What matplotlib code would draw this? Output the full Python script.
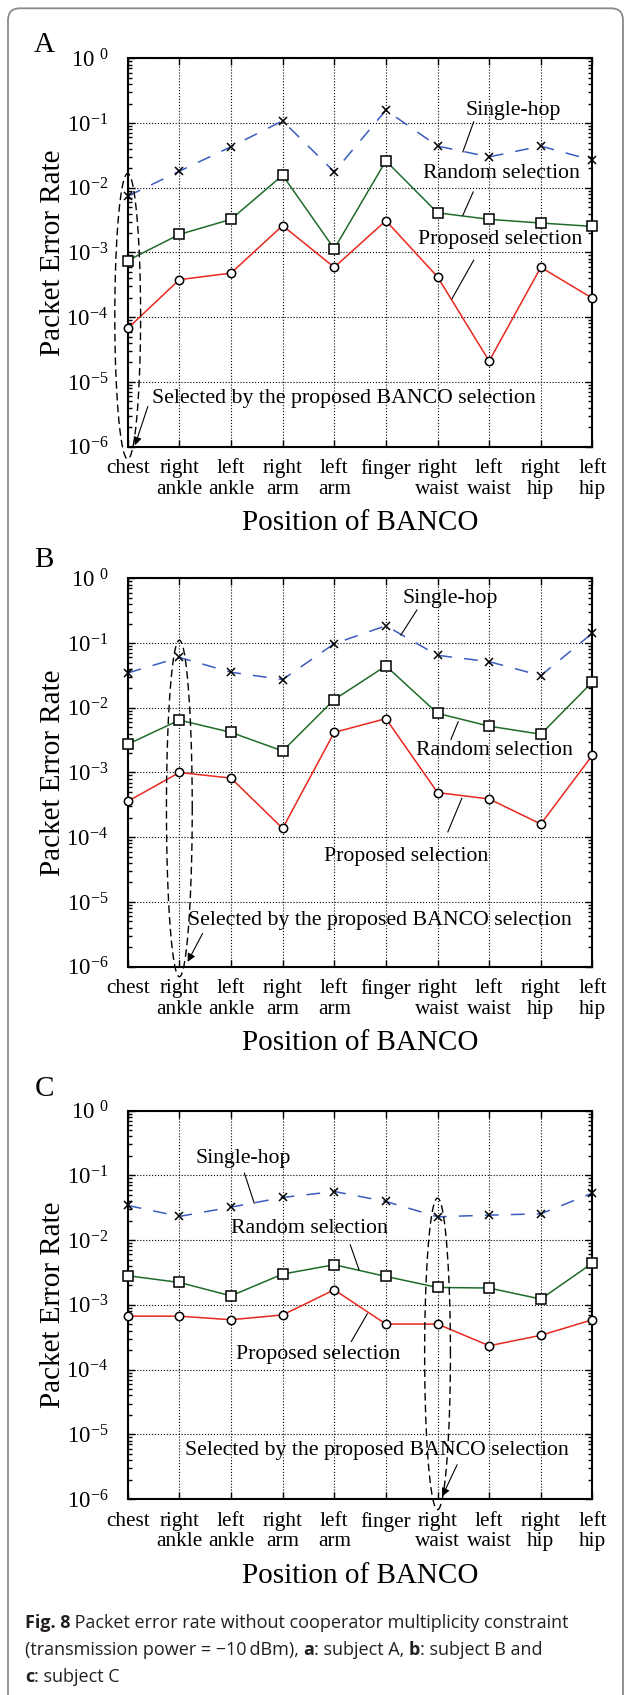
import numpy as np
import matplotlib
matplotlib.use('Agg')
import matplotlib.pyplot as plt
from matplotlib.ticker import LogLocator, FuncFormatter, NullFormatter
from matplotlib.patches import FancyBboxPatch

plt.rcParams['font.family'] = 'Liberation Serif'
plt.rcParams['mathtext.default'] = 'regular'

# body positions of the BANCO (x axis)
positions = ['chest', 'right\nankle', 'left\nankle', 'right\narm', 'left\narm',
             'finger', 'right\nwaist', 'left\nwaist', 'right\nhip', 'left\nhip']

# subject A
single_a = [7.4e-3, 0.018, 0.043, 0.108, 0.0176, 0.158, 0.044, 0.030, 0.044, 0.0266]
random_a = [7.5e-4, 1.9e-3, 3.25e-3, 0.0156, 1.14e-3, 0.026, 4.1e-3, 3.25e-3, 2.85e-3, 2.53e-3]
proposed_a = [6.7e-5, 3.8e-4, 4.8e-4, 2.6e-3, 5.9e-4, 3.1e-3, 4.2e-4, 2.1e-5, 5.9e-4, 1.96e-4]

# subject B
single_b = [0.0345, 0.060, 0.0354, 0.0273, 0.0977, 0.185, 0.0646, 0.0516, 0.0314, 0.1425]
random_b = [2.73e-3, 6.46e-3, 4.17e-3, 2.15e-3, 0.0134, 0.0443, 8.2e-3, 5.2e-3, 3.9e-3, 0.0251]
proposed_b = [3.58e-4, 1.0e-3, 8.2e-4, 1.37e-4, 4.17e-3, 6.8e-3, 4.9e-4, 3.9e-4, 1.6e-4, 1.85e-3]

# subject C
single_c = [0.0343, 0.0232, 0.0323, 0.0455, 0.0563, 0.0395, 0.0229, 0.0243, 0.0255, 0.0531]
random_c = [2.82e-3, 2.22e-3, 1.38e-3, 2.99e-3, 4.17e-3, 2.75e-3, 1.86e-3, 1.82e-3, 1.23e-3, 4.42e-3]
proposed_c = [6.7e-4, 6.7e-4, 5.9e-4, 7.0e-4, 1.71e-3, 5.06e-4, 5.06e-4, 2.34e-4, 3.39e-4, 5.9e-4]

panel_names = ['A', 'B', 'C']
selected = ['chest', 'right\nankle', 'right\nwaist']

# annotation layout: (x, log10 y) of text, pointer line start/end
notes = [
    {'single': ((8.46, -0.80), (7.70, -0.981), (7.49, -1.446)),
     'random': ((8.24, -1.78), (7.69, -2.065), (7.49, -2.426)),
     'proposed': ((8.21, -2.80), (7.70, -3.12), (7.28, -3.715)),
     'sel': ((1.47, -5.263), (1.39, -5.38), (1.14, -5.98)),
     'ell': (-3.986, 2.206)},
    {'single': ((7.24, -0.309), (6.60, -0.49), (6.29, -0.876)),
     'random': ((8.10, -2.654), (7.26, -2.488), (7.40, -2.216)),
     'proposed': ((6.39, -4.292), (7.20, -3.917), (7.47, -3.40)),
     'sel': ((2.175, -5.281), (2.45, -5.487), (2.16, -5.926)),
     'ell': (-3.556, 2.60)},
    {'single': ((3.24, -0.735), (3.26, -0.966), (3.45, -1.429)),
     'random': ((4.51, -1.815), (5.31, -2.073), (5.48, -2.458)),
     'proposed': ((4.69, -3.77), (5.33, -3.565), (5.64, -3.137)),
     'sel': ((2.10, -5.247), (7.38, -5.467), (7.09, -5.957)),
     'ell': (-3.757, 2.405)},
]
labels = {'single': 'Single-hop', 'random': 'Random selection', 'proposed': 'Proposed selection'}

W, H = 626, 1695
fig = plt.figure(figsize=(W / 100, H / 100), dpi=100)

frame = FancyBboxPatch((0.08, -0.3), 6.15, 16.867 + 0.3, boxstyle='round,pad=0,rounding_size=0.12',
                       transform=fig.dpi_scale_trans, fc='none', ec='#8a8a8a', lw=1.3)
fig.patches.append(frame)

rects = [[0.204, 0.7365, 0.7424, 0.2291],
         [0.204, 0.4297, 0.7424, 0.2291],
         [0.204, 0.1155, 0.7424, 0.2293]]
label_y = [45, 560, 1089]
data = [(single_a, random_a, proposed_a), (single_b, random_b, proposed_b), (single_c, random_c, proposed_c)]

blue = '#3a5cbf'
green = '#1f6b2a'
red = '#e8281e'


def fmt(v, pos):
    e = int(round(np.log10(v)))
    if e == 0:
        return r'$10^{\ 0}$'
    return r'$10^{%d}$' % e


x = np.arange(1, len(positions) + 1)
for i in range(3):
    ax = fig.add_axes(rects[i])
    s, r, p = data[i]
    ax.plot(x, s, color=blue, ls=(0, (9, 8)), lw=1.1, marker='x', ms=6, mec='k', mew=1.1, clip_on=False, zorder=3)
    ax.plot(x, r, color=green, lw=1.1, marker='s', ms=6.5, mfc='w', mec='k', mew=1.1, clip_on=False, zorder=3)
    ax.plot(x, p, color=red, lw=1.1, marker='o', ms=6, mfc='w', mec='k', mew=1.1, clip_on=False, zorder=3)

    ax.set_yscale('log')
    ax.set_ylim(1e-6, 1)
    ax.set_xlim(1, 10)
    ax.yaxis.set_major_locator(LogLocator(base=10, numticks=10))
    ax.yaxis.set_minor_locator(LogLocator(base=10, subs=np.arange(2, 10), numticks=10))
    ax.yaxis.set_major_formatter(FuncFormatter(fmt))
    ax.yaxis.set_minor_formatter(NullFormatter())
    ax.set_xticks(x)
    ax.set_xticklabels(positions, fontsize=15.3, linespacing=1.12)
    ax.tick_params(axis='y', labelsize=16.5, pad=14)
    ax.tick_params(axis='x', pad=9)
    ax.tick_params(which='both', direction='in', top=True, right=True, width=1)
    ax.tick_params(which='major', length=5)
    ax.tick_params(which='minor', length=3)
    ax.grid(True, which='major', ls=':', color='k', lw=0.8)
    for sp in ax.spines.values():
        sp.set_linewidth(1.5)
    ax.set_ylabel('Packet Error Rate', fontsize=21)
    ax.yaxis.set_label_coords(-0.133, 0.5)
    ax.set_xlabel('Position of BANCO', fontsize=21, va='top')
    ax.xaxis.set_label_coords(0.5, -0.164)

    nt = notes[i]
    for key in ['single', 'random', 'proposed']:
        (tx, ty), (x0, y0), (x1, y1) = nt[key]
        ax.text(tx, 10 ** ty, labels[key], fontsize=15.7, ha='center', va='center', zorder=4)
        ax.plot([x0, x1], [10 ** y0, 10 ** y1], color='k', lw=0.8, zorder=4)
    (tx, ty), (x0, y0), (x1, y1) = nt['sel']
    ax.text(tx, 10 ** ty, 'Selected by the proposed BANCO selection', fontsize=15.7,
            ha='left', va='center', zorder=4)
    ax.annotate('', xy=(x1, 10 ** y1), xytext=(x0, 10 ** y0),
                arrowprops=dict(arrowstyle='-|>', color='k', lw=0.8, mutation_scale=12,
                                shrinkA=0, shrinkB=0), annotation_clip=False)
    cx = positions.index(selected[i]) + 1
    cy, b = nt['ell']
    t = np.linspace(0, 2 * np.pi, 300)
    ax.plot(cx + 0.25 * np.cos(t), 10 ** (cy + b * np.sin(t)), color='k', lw=1.0,
            ls=(0, (5.5, 3)), clip_on=False, zorder=5)

    fig.text(44 / W, 1 - label_y[i] / H, panel_names[i], fontsize=21, ha='center', va='center')

# caption with bold parts
renderer = fig.canvas.get_renderer()
cap_lines = [
    (1628, [('Fig. 8', 'bold'), (' Packet error rate without cooperator multiplicity constraint', 'normal')]),
    (1655, [('(transmission power = \u221210\u2009dBm), ', 'normal'), ('a', 'bold'), (': subject A, ', 'normal'),
            ('b', 'bold'), (': subject B and', 'normal')]),
    (1682, [('c', 'bold'), (': subject C', 'normal')]),
]
for yb, parts in cap_lines:
    xp = 24.8
    for txt, wt in parts:
        tt = fig.text(xp / W, 1 - yb / H, txt, fontsize=13, fontweight=wt,
                      family=['Open Sans', 'DejaVu Sans'], ha='left', va='baseline', color='#231f20')
        bb = tt.get_window_extent(renderer)
        xp = bb.x1

fig.savefig('out.png', dpi=100)
